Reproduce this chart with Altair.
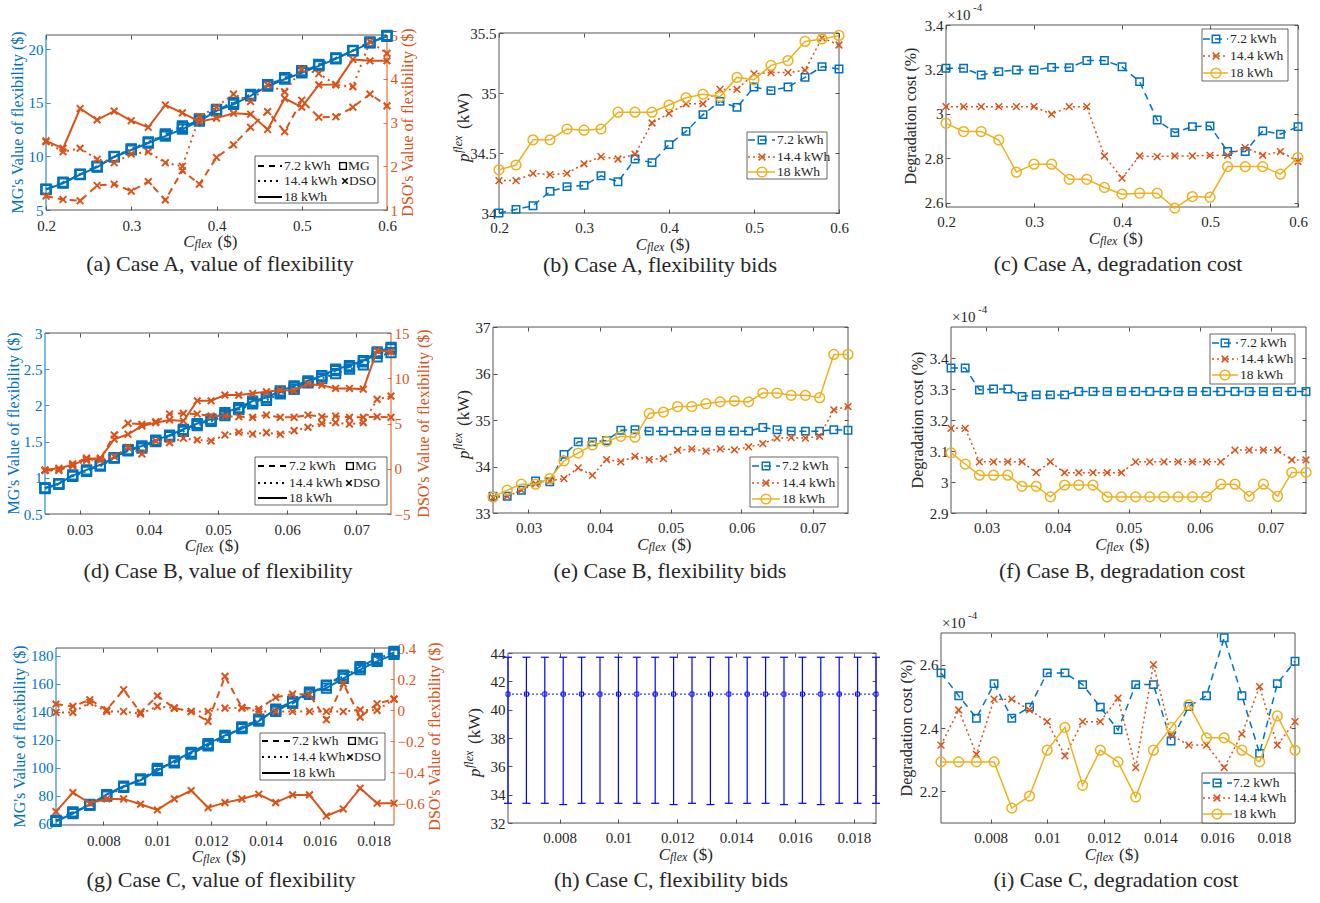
import altair as alt
import pandas as pd

FONT = "Liberation Serif"
BLUE, ORANGE, YELLOW, PBLUE = "#0072BD", "#D95319", "#EDB120", "#0000FF"
INK, FRAME = "#262626", "#555555"
CW, CH = 440, 301
TICK_FS, TITLE_FS, CAP_FS, LEG_FS = 15, 16, 22, 13.5
XMARK = "M-1,-1L1,1M-1,1L1,-1"

# ---------------- data ----------------
X_A = [0.20, 0.22, 0.24, 0.26, 0.28, 0.30, 0.32, 0.34, 0.36, 0.38, 0.40,
       0.42, 0.44, 0.46, 0.48, 0.50, 0.52, 0.54, 0.56, 0.58, 0.60]
X_B = [0.025, 0.027, 0.029, 0.031, 0.033, 0.035, 0.037, 0.039, 0.041, 0.043, 0.045, 0.047, 0.049,
       0.051, 0.053, 0.055, 0.057, 0.059, 0.061, 0.063, 0.065, 0.067, 0.069, 0.071, 0.073, 0.075]
X_C = [0.00625, 0.006875, 0.0075, 0.008125, 0.00875, 0.009375, 0.01, 0.010625, 0.01125, 0.011875,
       0.0125, 0.013125, 0.01375, 0.014375, 0.015, 0.015625, 0.01625, 0.016875, 0.0175, 0.018125, 0.01875]

# (a) value of flexibility, case A
MG_A_72 = [6.93, 7.55, 8.33, 9.05, 9.98, 10.66, 11.29, 12.00, 12.72, 13.40, 14.34, 14.96, 15.74, 16.67, 17.29, 17.92, 18.54, 19.16, 19.88, 20.62, 21.25]
MG_A_144 = [6.95, 7.60, 8.35, 9.10, 10.00, 10.70, 11.35, 12.10, 12.85, 13.50, 14.40, 15.05, 15.80, 16.70, 17.35, 18.00, 18.60, 19.20, 19.90, 20.70, 21.30]
MG_A_18 = [6.90, 7.50, 8.30, 9.00, 9.95, 10.60, 11.25, 11.90, 12.55, 13.30, 14.25, 14.85, 15.65, 16.55, 17.20, 17.80, 18.45, 19.10, 19.85, 20.60, 21.20]
DSO_A_72 = [1.32, 1.24, 1.21, 1.56, 1.59, 1.43, 1.65, 1.23, 1.90, 1.59, 2.20, 2.49, 2.89, 3.25, 2.79, 3.51, 3.12, 3.13, 3.35, 3.65, 3.38]
DSO_A_144 = [2.56, 2.33, 2.41, 2.16, 2.08, 2.28, 2.33, 2.08, 2.00, 3.13, 3.35, 3.65, 3.48, 3.86, 3.70, 4.22, 4.12, 3.86, 3.82, 4.85, 4.58]
DSO_A_18 = [2.58, 2.41, 3.32, 3.06, 3.26, 3.04, 2.89, 3.40, 3.22, 3.02, 3.10, 3.21, 3.19, 2.84, 3.55, 3.35, 3.86, 3.87, 4.44, 4.41, 4.41]
# (b) flexibility bids, case A
BID_A_72 = [34.00, 34.03, 34.06, 34.18, 34.22, 34.23, 34.31, 34.26, 34.45, 34.42, 34.57, 34.68, 34.82, 34.93, 34.88, 35.05, 35.02, 35.05, 35.13, 35.22, 35.20]
BID_A_144 = [34.27, 34.27, 34.33, 34.32, 34.33, 34.41, 34.47, 34.45, 34.49, 34.75, 34.83, 34.91, 34.91, 35.03, 35.03, 35.16, 35.17, 35.17, 35.19, 35.46, 35.40]
BID_A_18 = [34.36, 34.40, 34.61, 34.61, 34.70, 34.69, 34.70, 34.84, 34.84, 34.84, 34.90, 34.96, 34.99, 34.97, 35.13, 35.11, 35.23, 35.27, 35.43, 35.45, 35.48]
# (c) degradation cost (x1e-4), case A
DEG_A_72 = [3.205, 3.205, 3.175, 3.190, 3.197, 3.197, 3.209, 3.208, 3.240, 3.240, 3.212, 3.145, 2.972, 2.915, 2.942, 2.945, 2.830, 2.830, 2.923, 2.908, 2.942]
DEG_A_144 = [3.032, 3.032, 3.032, 3.032, 3.032, 3.032, 2.998, 3.032, 3.032, 2.810, 2.710, 2.810, 2.807, 2.810, 2.810, 2.813, 2.813, 2.848, 2.813, 2.830, 2.785]
DEG_A_18 = [2.957, 2.920, 2.920, 2.882, 2.737, 2.773, 2.773, 2.705, 2.705, 2.668, 2.638, 2.642, 2.642, 2.575, 2.627, 2.624, 2.762, 2.762, 2.762, 2.728, 2.803]
# (d) value of flexibility, case B
MG_B_72 = [0.86, 0.92, 1.04, 1.10, 1.17, 1.28, 1.37, 1.43, 1.51, 1.58, 1.66, 1.74, 1.79, 1.88, 1.95, 2.04, 2.10, 2.18, 2.25, 2.33, 2.40, 2.48, 2.53, 2.60, 2.72, 2.78]
MG_B_144 = [0.85, 0.91, 1.02, 1.09, 1.16, 1.27, 1.38, 1.41, 1.50, 1.57, 1.64, 1.72, 1.78, 1.86, 1.94, 2.02, 2.07, 2.16, 2.22, 2.31, 2.37, 2.44, 2.50, 2.56, 2.67, 2.73]
MG_B_18 = [0.86, 0.92, 1.03, 1.11, 1.18, 1.28, 1.39, 1.44, 1.52, 1.59, 1.67, 1.75, 1.81, 1.90, 1.97, 2.06, 2.11, 2.20, 2.27, 2.34, 2.41, 2.50, 2.55, 2.62, 2.74, 2.80]
DSO_B_72 = [-0.19, -0.19, 0.54, 1.17, 1.06, 3.73, 5.02, 4.91, 5.20, 6.05, 6.12, 6.05, 5.83, 5.83, 5.75, 5.68, 5.94, 5.68, 5.68, 5.94, 5.75, 5.83, 5.68, 5.68, 5.75, 5.68]
DSO_B_144 = [-0.19, -0.12, 0.32, 0.91, 0.98, 1.35, 2.38, 1.64, 3.07, 2.89, 3.37, 3.18, 3.07, 3.73, 4.03, 3.84, 3.99, 3.81, 4.21, 4.58, 5.02, 5.09, 4.94, 5.09, 7.66, 8.03]
DSO_B_18 = [-0.12, 0.06, 0.43, 1.06, 1.17, 3.26, 3.81, 4.72, 5.09, 5.39, 5.28, 7.51, 7.51, 8.14, 8.14, 8.32, 8.50, 8.69, 8.61, 9.35, 9.24, 8.87, 8.87, 8.80, 13.09, 12.91]
# (e) flexibility bids, case B
BID_B_72 = [33.36, 33.36, 33.49, 33.69, 33.67, 34.26, 34.53, 34.53, 34.56, 34.78, 34.79, 34.76, 34.76, 34.76, 34.76, 34.76, 34.76, 34.76, 34.76, 34.84, 34.79, 34.76, 34.76, 34.76, 34.79, 34.78]
BID_B_144 = [33.33, 33.36, 33.49, 33.63, 33.69, 33.74, 33.97, 33.81, 34.15, 34.10, 34.22, 34.15, 34.17, 34.35, 34.38, 34.33, 34.38, 34.36, 34.42, 34.49, 34.61, 34.62, 34.61, 34.65, 35.22, 35.29]
BID_B_18 = [33.34, 33.49, 33.62, 33.62, 33.74, 34.12, 34.29, 34.46, 34.54, 34.65, 34.63, 35.14, 35.17, 35.29, 35.29, 35.35, 35.39, 35.41, 35.39, 35.58, 35.58, 35.53, 35.53, 35.48, 36.41, 36.41]
# (f) degradation cost, case B
DEG_B_72 = [3.368, 3.368, 3.297, 3.300, 3.300, 3.276, 3.281, 3.281, 3.281, 3.292, 3.292, 3.292, 3.292, 3.292, 3.292, 3.292, 3.292, 3.292, 3.292, 3.292, 3.292, 3.292, 3.292, 3.292, 3.292, 3.292]
DEG_B_144 = [3.173, 3.173, 3.065, 3.065, 3.065, 3.065, 3.030, 3.065, 3.030, 3.030, 3.030, 3.030, 3.030, 3.065, 3.065, 3.065, 3.065, 3.065, 3.065, 3.065, 3.103, 3.103, 3.103, 3.103, 3.071, 3.071]
DEG_B_18 = [3.094, 3.058, 3.022, 3.022, 3.022, 2.986, 2.986, 2.952, 2.990, 2.990, 2.990, 2.952, 2.952, 2.952, 2.952, 2.952, 2.952, 2.952, 2.952, 2.993, 2.993, 2.954, 2.993, 2.954, 3.031, 3.031]
# (g) value of flexibility, case C
MG_C_72 = [61.9, 68.4, 73.1, 80.3, 86.3, 91.5, 99.4, 103.4, 109.6, 116.1, 121.6, 129.2, 134.0, 141.1, 145.9, 153.1, 159.0, 166.2, 172.2, 178.1, 182.2]
MG_C_144 = [62.4, 67.8, 73.8, 79.6, 85.9, 92.0, 98.6, 104.1, 110.2, 115.6, 122.3, 128.4, 134.6, 140.2, 146.6, 152.4, 158.6, 165.3, 171.4, 177.2, 183.1]
MG_C_18 = [61.5, 67.2, 73.5, 80.8, 86.8, 91.0, 97.9, 104.8, 111.0, 117.2, 123.0, 127.9, 133.2, 141.8, 147.1, 154.0, 156.9, 163.8, 170.0, 176.0, 180.9]
DSO_C_72 = [0.039, 0.024, 0.067, 0.002, 0.131, -0.015, 0.092, 0.013, -0.009, -0.073, 0.217, 0.017, 0.006, 0.082, 0.103, 0.099, -0.062, 0.170, -0.045, 0.041, 0.071]
DSO_C_144 = [-0.015, -0.015, 0.049, -0.009, -0.009, -0.024, 0.024, 0.013, -0.009, -0.009, 0.013, 0.013, -0.009, -0.009, -0.009, -0.009, -0.009, -0.009, 0.002, -0.002, 0.071]
DSO_C_18 = [-0.654, -0.531, -0.600, -0.572, -0.572, -0.606, -0.643, -0.572, -0.518, -0.628, -0.596, -0.572, -0.542, -0.596, -0.546, -0.546, -0.682, -0.637, -0.503, -0.600, -0.600]
# (h) flexibility bids, case C (error bars)
BID_C_LO = [33.39, 33.39, 33.39, 33.30, 33.39, 33.39, 33.39, 33.39, 33.39, 33.30, 33.39, 33.30, 33.39, 33.39, 33.39, 33.30, 33.39, 33.30, 33.39, 33.39, 33.39]
BID_C_HI = [43.7, 43.7, 43.7, 43.7, 43.7, 43.7, 43.7, 43.7, 43.7, 43.7, 43.7, 43.7, 43.7, 43.7, 43.7, 43.7, 43.7, 43.7, 43.7, 43.7, 43.7]
BID_C_MID = [41.1, 41.1, 41.1, 41.1, 41.1, 41.1, 41.1, 41.1, 41.1, 41.1, 41.1, 41.1, 41.1, 41.1, 41.1, 41.1, 41.1, 41.1, 41.1, 41.1, 41.1]
# (i) degradation cost, case C
DEG_C_72 = [2.574, 2.502, 2.431, 2.540, 2.431, 2.466, 2.574, 2.574, 2.537, 2.466, 2.394, 2.537, 2.537, 2.359, 2.468, 2.502, 2.685, 2.502, 2.320, 2.540, 2.611]
DEG_C_144 = [2.346, 2.457, 2.317, 2.491, 2.491, 2.457, 2.420, 2.312, 2.420, 2.420, 2.494, 2.275, 2.600, 2.378, 2.346, 2.346, 2.275, 2.381, 2.531, 2.346, 2.420]
DEG_C_18 = [2.293, 2.293, 2.293, 2.293, 2.147, 2.185, 2.330, 2.402, 2.219, 2.330, 2.293, 2.182, 2.330, 2.402, 2.473, 2.369, 2.369, 2.330, 2.293, 2.438, 2.330]

CAPTIONS = ["(a) Case A, value of flexibility", "(b) Case A, flexibility bids", "(c) Case A, degradation cost",
            "(d) Case B, value of flexibility", "(e) Case B, flexibility bids", "(f) Case B, degradation cost",
            "(g) Case C, value of flexibility", "(h) Case C, flexibility bids", "(i) Case C, degradation cost"]
CAPS = ["7.2 kWh", "14.4 kWh", "18 kWh"]

ONE = pd.DataFrame({"v": [0]})

# ---------------- helpers ----------------
def hrule(x0, x1, y, color, width=1.0, dash=None):
    kw = dict(color=color, strokeWidth=width)
    if dash:
        kw["strokeDash"] = dash
    return alt.Chart(ONE).mark_rule(**kw).encode(x=alt.value(x0), x2=alt.value(x1), y=alt.value(y))


def vrule(x, y0, y1, color, width=1.0):
    return alt.Chart(ONE).mark_rule(color=color, strokeWidth=width).encode(
        x=alt.value(x), y=alt.value(y0), y2=alt.value(y1))


def text(x, y, s, size, color=INK, align="left", baseline="alphabetic", angle=0, italic=False):
    kw = dict(text=s, font=FONT, fontSize=size, color=color, align=align, baseline=baseline)
    if angle:
        kw["angle"] = angle
    if italic:
        kw["fontStyle"] = "italic"
    return alt.Chart(ONE).mark_text(**kw).encode(x=alt.value(x), y=alt.value(y))


def mark_px(x, y, shape, color, size, sw=1.3):
    return alt.Chart(ONE).mark_point(shape=shape, color=color, size=size, strokeWidth=sw,
                                     filled=False, opacity=1).encode(x=alt.value(x), y=alt.value(y))


def mk_axis(orient, offset, values, fmt, color, labels=True, pad=3):
    return alt.Axis(orient=orient, offset=offset, values=values, format=fmt, labels=labels,
                    tickSize=4, tickWidth=0.8, tickColor=color, domain=False, grid=False, title=None,
                    labelFont=FONT, labelFontSize=TICK_FS, labelColor=color, labelPadding=pad,
                    labelFlush=False, labelOverlap=False)


def carrier(xsc, ysc, xdom, ydom, xa=None, ya=None):
    df = pd.DataFrame({"x": [xdom[0]], "y": [ydom[0]]})
    return alt.Chart(df).mark_point(opacity=0).encode(
        x=alt.X("x:Q", scale=xsc, axis=xa), y=alt.Y("y:Q", scale=ysc, axis=ya))


def series(xv, yv, xsc, ysc, color, dash, lw, shape, msize, msw=1.3):
    df = pd.DataFrame({"x": xv, "y": yv})
    base = alt.Chart(df).encode(x=alt.X("x:Q", scale=xsc, axis=None), y=alt.Y("y:Q", scale=ysc, axis=None))
    kw = dict(color=color, strokeWidth=lw)
    if dash:
        kw["strokeDash"] = dash
    return [base.mark_line(**kw),
            base.mark_point(shape=shape, color=color, size=msize, strokeWidth=msw, filled=False, opacity=1)]


DASHES = [[7, 5], [2, 3], None]
STYLES = [(BLUE, DASHES[0], "square", 55), (ORANGE, DASHES[1], XMARK, 45), (YELLOW, None, "circle", 95)]


def cflex(box):
    L, R, T, B = box
    cx, yb = (L + R) / 2, B + 37
    return [text(cx - 22, yb, "C", 17, align="right", italic=True),
            text(cx - 22, yb + 1, "flex", 12, italic=True),
            text(cx + 1, yb, "($)", 17)]


def pflex(x, box):
    L, R, T, B = box
    cy = (T + B) / 2
    return [text(x, cy + 39, "p", 17, angle=270, italic=True),
            text(x - 7, cy + 30, "flex", 12, angle=270, italic=True),
            text(x, cy + 6, "(kW)", 17, angle=270)]


def vtitle(x, box, s, color=INK):
    L, R, T, B = box
    return [text(x, (T + B) / 2, s, TITLE_FS, color=color, align="center", baseline="middle", angle=270)]


def exp_label(box):
    L, R, T, B = box
    return [text(L + 1, T - 5, "\u00d710", 15), text(L + 27, T - 14, "-4", 11)]


def frame(box, lcol=FRAME, rcol=FRAME):
    L, R, T, B = box
    return [hrule(L, R, T, FRAME), hrule(L, R, B, FRAME), vrule(L, T, B, lcol), vrule(R, T, B, rcol)]


def legend3(lbox, rows_y, lx0, lx1, mx, tx):
    x0, x1, y0, y1 = lbox
    out = [alt.Chart(ONE).mark_rect(fill="white", stroke=INK, strokeWidth=0.7).encode(
        x=alt.value(x0), x2=alt.value(x1), y=alt.value(y0), y2=alt.value(y1))]
    for (col, dash, shp, sz), y, lab in zip(STYLES, rows_y, CAPS):
        out.append(hrule(lx0, lx1, y, col, 1.5, dash))
        out.append(mark_px(mx, y, shp, col, sz, 1.5))
        out.append(text(tx, y, lab, LEG_FS, baseline="middle"))
    return out


def legend_dual(lbox, rows_y, lx0, lx1, tx, mgx, dsox):
    x0, x1, y0, y1 = lbox
    out = [alt.Chart(ONE).mark_rect(fill="white", stroke=INK, strokeWidth=0.7).encode(
        x=alt.value(x0), x2=alt.value(x1), y=alt.value(y0), y2=alt.value(y1))]
    for dash, y, lab in zip([[6, 5], [2, 4], None], rows_y, CAPS):
        out.append(hrule(lx0, lx1, y, "#000000", 2, dash))
        out.append(text(tx, y, lab, LEG_FS, baseline="middle"))
    out.append(mark_px(mgx, rows_y[0], "square", "#000000", 45, 1.4))
    out.append(text(mgx + 5, rows_y[0], "MG", LEG_FS, baseline="middle"))
    out.append(mark_px(dsox, rows_y[1], XMARK, "#000000", 30, 1.6))
    out.append(text(dsox + 4, rows_y[1], "DSO", LEG_FS, baseline="middle"))
    return out


def caption(cx, yb, s):
    return [text(cx, yb, s, CAP_FS, align="center")]


def finish(layers, dual=False):
    ch = alt.layer(*layers).properties(width=CW, height=CH).resolve_axis(x="independent", y="independent")
    if dual:
        ch = ch.resolve_scale(y="independent")
    return ch


def axes4(box, xsc, ysc, xdom, ydom, xt, xfmt, yt, yfmt):
    L, R, T, B = box
    return [carrier(xsc, ysc, xdom, ydom, xa=mk_axis("bottom", B - 4 - CH, xt, xfmt, INK, pad=7)),
            carrier(xsc, ysc, xdom, ydom, xa=mk_axis("top", -(T + 4), xt, xfmt, INK, labels=False)),
            carrier(xsc, ysc, xdom, ydom, ya=mk_axis("left", -(L + 4), yt, yfmt, INK)),
            carrier(xsc, ysc, xdom, ydom, ya=mk_axis("right", R - 4 - CW, yt, yfmt, INK, labels=False))]


def std_panel(box, xdom, xt, xfmt, X, ydom, yt, yfmt, ys, lbox, rows_y, lx, extra, cap, capxy):
    L, R, T, B = box
    xsc = alt.Scale(domain=xdom, range=[L, R], nice=False, zero=False)
    ysc = alt.Scale(domain=ydom, range=[B, T], nice=False, zero=False)
    lay = frame(box) + axes4(box, xsc, ysc, xdom, ydom, xt, xfmt, yt, yfmt)
    for yv, (col, dash, shp, sz) in zip(ys, STYLES):
        lay += series(X, yv, xsc, ysc, col, dash, 1.5, shp, sz, 1.5)
    lay += legend3(lbox, rows_y, lx[0], lx[1], lx[2], lx[3])
    lay += extra
    lay += cflex(box)
    lay += caption(capxy[0], capxy[1], cap)
    return finish(lay)


def dual_panel(box, xdom, xt, xfmt, X, ydom, yt, yfmt, mg, ydom2, yt2, yfmt2, dso,
               lbox, rows_y, lx, titles_x, cap, capxy):
    L, R, T, B = box
    xsc = alt.Scale(domain=xdom, range=[L, R], nice=False, zero=False)
    ysc = alt.Scale(domain=ydom, range=[B, T], nice=False, zero=False)
    ysc2 = alt.Scale(domain=ydom2, range=[B, T], nice=False, zero=False)
    lay = frame(box, BLUE, ORANGE)
    lay += [carrier(xsc, ysc, xdom, ydom, xa=mk_axis("bottom", B - 4 - CH, xt, xfmt, INK, pad=8)),
            carrier(xsc, ysc, xdom, ydom, xa=mk_axis("top", -(T + 4), xt, xfmt, INK, labels=False)),
            carrier(xsc, ysc, xdom, ydom, ya=mk_axis("left", -(L + 4), yt, yfmt, BLUE)),
            carrier(xsc, ysc2, xdom, ydom2, ya=mk_axis("right", R - 4 - CW, yt2, yfmt2, ORANGE))]
    for yv, dash in zip(mg, [[7, 5], [2, 4], None]):
        lay += series(X, yv, xsc, ysc, BLUE, dash, 2, "square", 85, 2)
    for yv, dash in zip(dso, [[7, 5], [2, 4], None]):
        lay += series(X, yv, xsc, ysc2, ORANGE, dash, 2, XMARK, 45, 2)
    lay += legend_dual(lbox, rows_y, lx[0], lx[1], lx[2], lx[3], lx[4])
    lay += vtitle(titles_x[0], box, "MG's Value of flexibility ($)", BLUE)
    lay += vtitle(titles_x[1], box, "DSO's Value of flexibility ($)", ORANGE)
    lay += cflex(box)
    lay += caption(capxy[0], capxy[1], cap)
    return finish(lay, dual=True)


def bars_panel(box, xdom, xt, xfmt, X, ydom, yt, yfmt, cap, capxy, title_x):
    L, R, T, B = box
    xsc = alt.Scale(domain=xdom, range=[L, R], nice=False, zero=False)
    ysc = alt.Scale(domain=ydom, range=[B, T], nice=False, zero=False)
    lay = frame(box) + axes4(box, xsc, ysc, xdom, ydom, xt, xfmt, yt, yfmt)
    df = pd.DataFrame({"x": X, "lo": BID_C_LO, "hi": BID_C_HI, "mid": BID_C_MID})
    base = alt.Chart(df)
    X_ = alt.X("x:Q", scale=xsc, axis=None)
    lay.append(base.mark_rule(color=PBLUE, strokeWidth=1.2).encode(
        x=X_, y=alt.Y("lo:Q", scale=ysc, axis=None), y2="hi:Q"))
    for f in ["lo", "hi"]:
        lay.append(base.mark_rule(color=PBLUE, strokeWidth=1.2, xOffset=-4, x2Offset=4).encode(
            x=X_, x2="x:Q", y=alt.Y(f + ":Q", scale=ysc, axis=None)))
    lay.append(base.mark_line(color="#3a3aff", strokeWidth=1.2, strokeDash=[2, 2]).encode(
        x=X_, y=alt.Y("mid:Q", scale=ysc, axis=None)))
    lay.append(base.mark_point(shape="square", color=PBLUE, size=16, strokeWidth=1, filled=False, opacity=1).encode(
        x=X_, y=alt.Y("mid:Q", scale=ysc, axis=None)))
    lay += pflex(title_x, box)
    lay += cflex(box)
    lay += caption(capxy[0], capxy[1], cap)
    return finish(lay)


XT_A, XT_B, XT_C = [0.2, 0.3, 0.4, 0.5, 0.6], [0.03, 0.04, 0.05, 0.06, 0.07], [0.008, 0.01, 0.012, 0.014, 0.016, 0.018]
XD_A, XD_B, XD_C = [0.2, 0.6], [0.025, 0.075], [0.00625, 0.01875]

# ---- row 1 ----
bA = (46, 387, 35, 210)
pa = dual_panel(bA, XD_A, XT_A, ".1f", X_A, [5, 21.33], [5, 10, 15, 20], "d",
                [MG_A_72, MG_A_144, MG_A_18], [1, 5], [1, 2, 3, 4, 5], "d",
                [DSO_A_72, DSO_A_144, DSO_A_18],
                (255, 378, 156, 203), [166, 181, 197], (258, 282, 284, 343, 345),
                (18, 408), CAPTIONS[0], (220, 271))
bB = (59, 399, 33, 213)
pb = std_panel(bB, XD_A, XT_A, ".1f", X_A, [34, 35.5], [34, 34.5, 35, 35.5], "~g",
               [BID_A_72, BID_A_144, BID_A_18], (307, 387, 132, 179), [140, 157, 172],
               (308, 335, 322, 337), pflex(29, bB), CAPTIONS[1], (220, 272))
bC = (66, 418, 25, 207)
pc = std_panel(bC, XD_A, XT_A, ".1f", X_A, [2.58, 3.4], [2.6, 2.8, 3.0, 3.2, 3.4], "~g",
               [DEG_A_72, DEG_A_144, DEG_A_18], (322, 408, 29, 81), [39, 56, 73],
               (323, 348, 336, 350), vtitle(31, bC, "Degradation cost (%)") + exp_label(bC),
               CAPTIONS[2], (238, 271))
# ---- row 2 ----
bD = (45, 391, 32, 213)
pd_ = dual_panel(bD, XD_B, XT_B, ".2f", X_B, [0.5, 3], [0.5, 1, 1.5, 2, 2.5, 3], "~g",
                 [MG_B_72, MG_B_144, MG_B_18], [-5, 15], [-5, 0, 5, 10, 15], "d",
                 [DSO_B_72, DSO_B_144, DSO_B_18],
                 (255, 387, 156, 204), [165, 182, 197], (258, 287, 289, 350, 349),
                 (14, 424), CAPTIONS[3], (218, 277))
bE = (53, 408, 26, 212)
pe = std_panel(bE, XD_B, XT_B, ".2f", X_B, [33, 37], [33, 34, 35, 36, 37], "d",
               [BID_B_72, BID_B_144, BID_B_18], (310, 398, 156, 206), [165, 182, 198],
               (312, 340, 326, 342), pflex(29, bE), CAPTIONS[4], (230, 277))
bF = (71, 426, 26, 212)
pf = std_panel(bF, XD_B, XT_B, ".2f", X_B, [2.9, 3.5], [2.9, 3.0, 3.1, 3.2, 3.3, 3.4], "~g",
               [DEG_B_72, DEG_B_144, DEG_B_18], (330, 415, 33, 83), [42, 58, 74],
               (332, 358, 345, 360), vtitle(38, bF, "Degradation cost (%)") + exp_label(bF),
               CAPTIONS[5], (242, 277))
# ---- row 3 ----
bG = (56, 394, 46, 223)
pg = dual_panel(bG, XD_C, XT_C, "~g", X_C, [59, 185.5], [60, 80, 100, 120, 140, 160, 180], "d",
                [MG_C_72, MG_C_144, MG_C_18], [-0.74, 0.4], [-0.6, -0.4, -0.2, 0, 0.2, 0.4], "~g",
                [DSO_C_72, DSO_C_144, DSO_C_18],
                (260, 385, 131, 178), [139, 155, 171], (262, 290, 292, 352, 350),
                (20, 435), CAPTIONS[6], (221, 285))
bH = (68, 436, 51, 221)
ph = bars_panel(bH, XD_C, XT_C, "~g", X_C, [32, 44], [32, 34, 36, 38, 40, 42, 44], "d",
                CAPTIONS[7], (231, 285), 40)
bI = (61, 415, 31, 221)
pi = std_panel(bI, XD_C, XT_C, "~g", X_C, [2.1, 2.7], [2.2, 2.4, 2.6], "~g",
               [DEG_C_72, DEG_C_144, DEG_C_18], (322, 415, 171, 221), [181, 196, 212],
               (323, 352, 337, 353), vtitle(27, bI, "Degradation cost (%)") + exp_label(bI),
               CAPTIONS[8], (236, 285))

chart = alt.concat(pa, pb, pc, pd_, pe, pf, pg, ph, pi, columns=3, spacing=0, bounds="flush").properties(
    padding=0, background="white"
).configure(font=FONT).configure_view(stroke="transparent", strokeWidth=0)

chart.save("out.html", embed_options={"renderer": "svg", "actions": False})
